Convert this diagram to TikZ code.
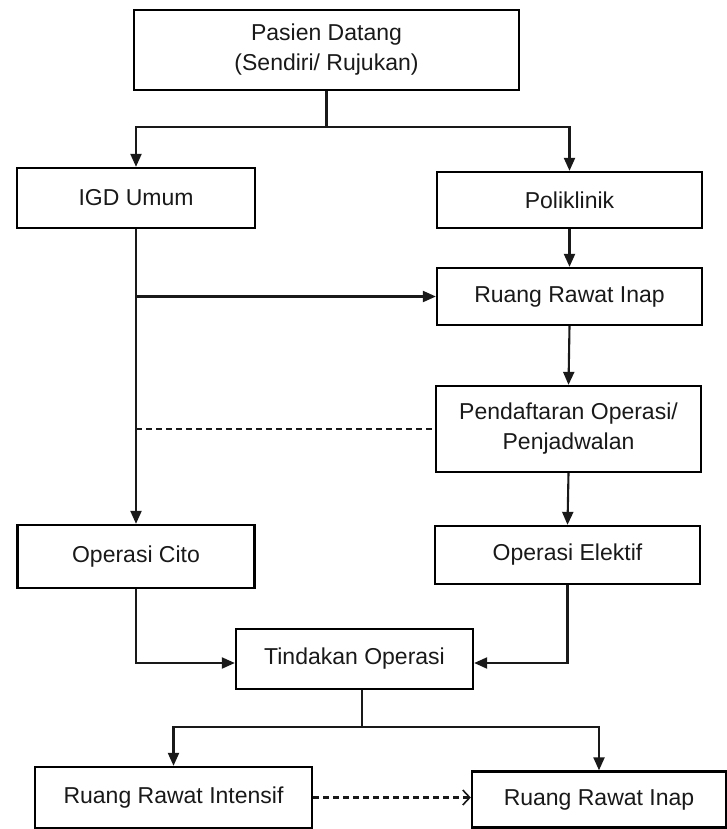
\documentclass[tikz,border=0pt]{standalone}
\usepackage{fontspec}
\setmainfont{Liberation Sans}
\usetikzlibrary{arrows.meta}
\begin{document}
\begin{tikzpicture}[x=1pt,y=-1pt,
  box/.style={draw=black,line width=2.3pt,rectangle,inner sep=0pt,align=center,
    font=\fontsize{23}{30}\selectfont,text=black!90},
  conn/.style={line width=2.1pt,draw=black!90},
  arr/.style={conn,-{Triangle[length=13pt,width=11pt]}},
  dashconn/.style={conn,dash pattern=on 6pt off 4pt},
  openarr/.style={dashconn,-{Straight Barb[length=7pt,width=15pt,line width=1.6pt]}}]
\useasboundingbox (0,0) rectangle (727,829);
\node[box,minimum width=385pt,minimum height=80pt] (top) at (326.5,50) {Pasien Datang\\(Sendiri/ Rujukan)};
\node[box,minimum width=238pt,minimum height=60pt] (igd) at (136,198) {IGD Umum};
\node[box,minimum width=265pt,minimum height=56pt] (poli) at (569.5,200) {Poliklinik};
\node[box,minimum width=265pt,minimum height=57pt] (rri) at (569.5,296.5) {Ruang Rawat Inap};
\node[box,minimum width=265pt,minimum height=86pt] (pend) at (568.5,429) {Pendaftaran Operasi/\\Penjadwalan};
\node[box,minimum width=237pt,minimum height=63pt] (cito) at (136,556.5) {Operasi Cito};
\node[box,minimum width=265pt,minimum height=58pt] (elek) at (567.5,555) {Operasi Elektif};
\node[box,minimum width=237pt,minimum height=60pt] (tind) at (354.5,659) {Tindakan Operasi};
\node[box,minimum width=277pt,minimum height=61pt] (intens) at (173.5,797.5) {Ruang Rawat Intensif};
\node[box,minimum width=254pt,minimum height=56pt] (inap) at (599,799.5) {Ruang Rawat Inap};
\coordinate (j1) at (326.5,127);
\draw[conn] (top.south) -- (j1);
\draw[arr] (j1) -| (igd.north);
\draw[arr] (j1) -| (poli.north);
\draw[arr] (poli.south) -- (rri.north);
\draw[arr] (igd.south) -- (cito.north);
\draw[arr] (igd.south |- rri.west) -- (rri.west);
\draw[dashconn] (igd.south |- pend.west) -- (pend.west);
\draw[arr] (rri.south) -- (pend.north);
\draw[arr] (pend.south) -- (elek.north);
\draw[arr] (cito.south) |- ([yshift=-4pt]tind.west);
\draw[arr] (elek.south) |- ([yshift=-4pt]tind.east);
\coordinate (j2) at (362,727);
\draw[conn] (tind.south -| j2) -- (j2);
\draw[arr] (j2) -| (intens.north);
\draw[arr] (j2) -| (inap.north);
\draw[openarr] (intens.east) -- (intens.east -| inap.west);
\end{tikzpicture}
\end{document}
